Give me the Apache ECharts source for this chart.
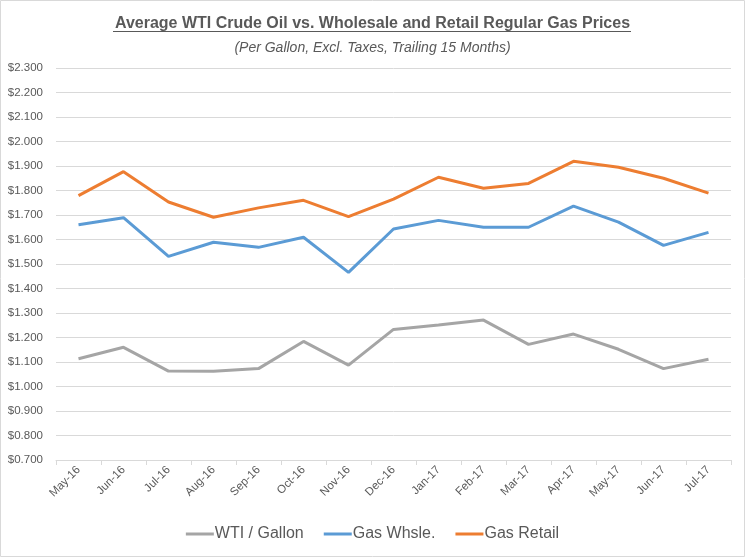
<!DOCTYPE html>
<html><head><meta charset="utf-8">
<script src="https://cdn.jsdelivr.net/npm/echarts@6/dist/echarts.min.js"></script>
<style>html,body{margin:0;padding:0;background:#fff}#c{width:745px;height:557px}</style>
</head><body><div id="c"></div>
<script>
const categories = ['May-16','Jun-16','Jul-16','Aug-16','Sep-16','Oct-16','Nov-16','Dec-16','Jan-17','Feb-17','Mar-17','Apr-17','May-17','Jun-17','Jul-17'];
const wtiGallon = [1.113,1.160,1.063,1.062,1.073,1.184,1.087,1.233,1.251,1.271,1.172,1.214,1.152,1.073,1.111];
const gasWhsle = [1.660,1.689,1.531,1.589,1.568,1.609,1.466,1.643,1.678,1.650,1.650,1.736,1.671,1.576,1.629];
const gasRetail = [1.779,1.877,1.753,1.691,1.729,1.760,1.693,1.765,1.854,1.809,1.829,1.919,1.895,1.850,1.789];
const seriesNames = ['WTI / Gallon','Gas Whsle.','Gas Retail'];
const titleText = 'Average WTI Crude Oil vs. Wholesale and Retail Regular Gas Prices';
const subtitleText = '(Per Gallon, Excl. Taxes, Trailing 15 Months)';

const chart = echarts.init(document.getElementById('c'), null, {renderer:'canvas'});
const FONT = 'Liberation Sans';
const mk = (name, data, color) => ({
  name, type:'line', data, symbol:'none', smooth:false,
  lineStyle:{width:3, color}, itemStyle:{color}
});
chart.setOption({
  animation:false,
  title:[
    {text:titleText, left:'center', top:11,
     textStyle:{fontFamily:FONT, fontSize:16, fontWeight:'bold', color:'#595959'}},
    {text:subtitleText, left:'center', top:36,
     textStyle:{fontFamily:FONT, fontSize:14, fontStyle:'italic', fontWeight:'normal', color:'#595959'}}
  ],
  graphic:[
    {type:'rect', shape:{x:0.5,y:0.5,width:744,height:556}, style:{fill:null, stroke:'#d9d9d9', lineWidth:1}, silent:true},
    {type:'line', shape:{x1:113,y1:31.5,x2:631,y2:31.5}, style:{stroke:'#595959', lineWidth:1}, silent:true}
  ],
  legend:{
    bottom:10, left:'center', itemWidth:28, itemHeight:3, itemGap:20,
    icon:'rect',
    textStyle:{fontFamily:FONT, fontSize:16, color:'#595959', padding:[0,0,0,-4]},
    data:seriesNames
  },
  grid:{left:56, right:14, top:68, bottom:97, containLabel:false},
  xAxis:{
    type:'category', data:categories, boundaryGap:true,
    axisLine:{lineStyle:{color:'#d9d9d9', width:1}},
    axisTick:{show:true, length:5, lineStyle:{color:'#d9d9d9'}},
    axisLabel:{rotate:45, fontFamily:FONT, fontSize:11.5, color:'#595959', margin:8, interval:0}
  },
  yAxis:{
    type:'value', min:0.7, max:2.3, interval:0.1,
    axisLine:{show:false}, axisTick:{show:false},
    splitLine:{lineStyle:{color:'#d9d9d9', width:1}},
    axisLabel:{fontFamily:FONT, fontSize:11.5, color:'#595959', margin:13,
      formatter:v=>'$'+v.toFixed(3)}
  },
  series:[
    mk(seriesNames[0], wtiGallon, '#a5a5a5'),
    mk(seriesNames[1], gasWhsle, '#5b9bd5'),
    mk(seriesNames[2], gasRetail, '#ed7d31')
  ]
});
</script></body></html>
